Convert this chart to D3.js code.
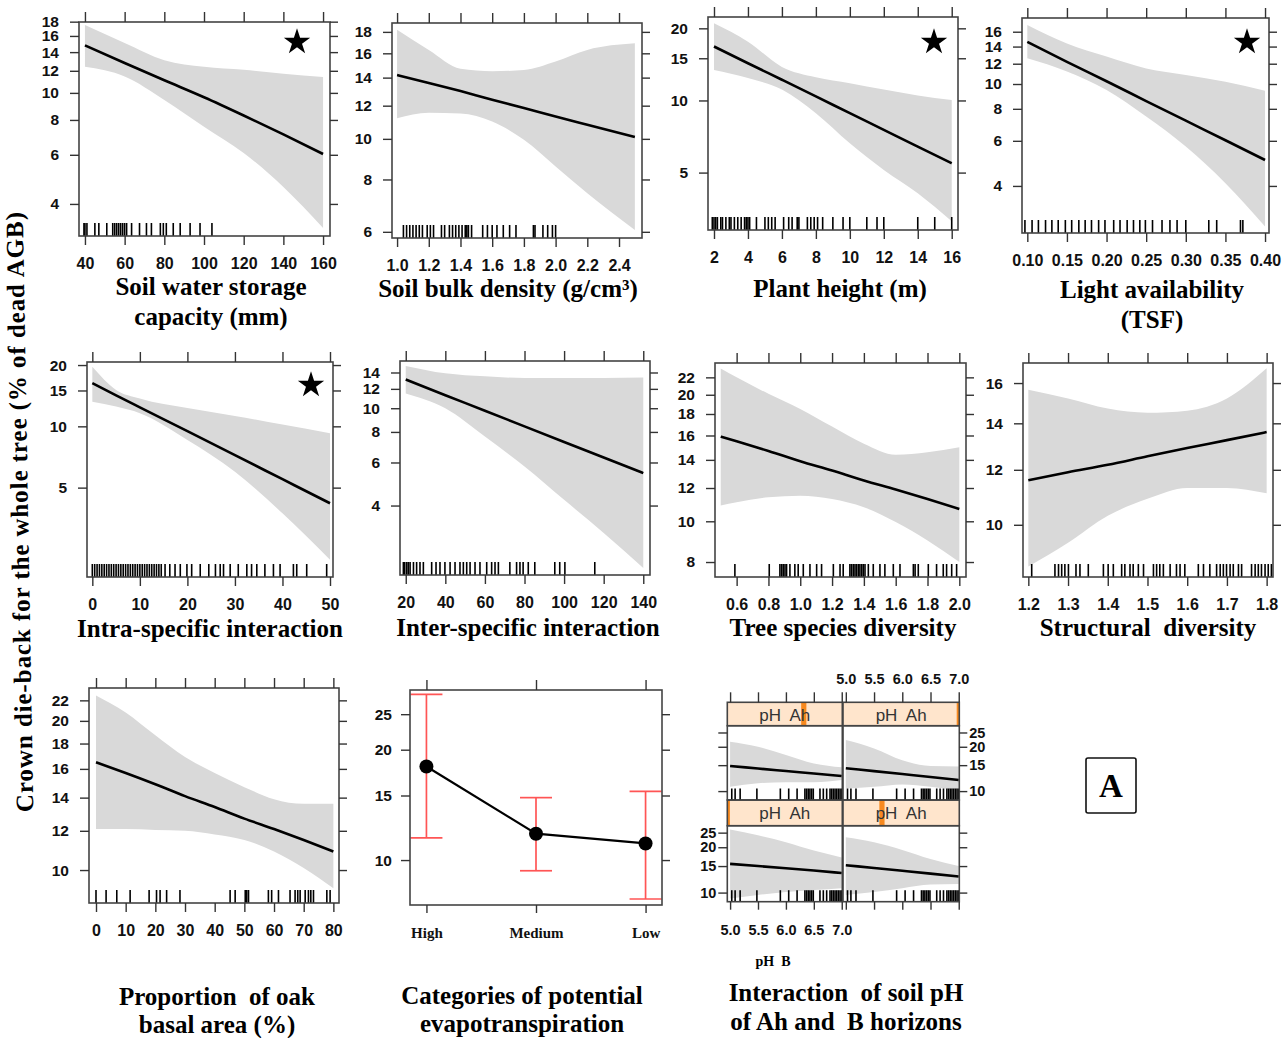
<!DOCTYPE html>
<html>
<head>
<meta charset="utf-8">
<script src="https://cdn.jsdelivr.net/npm/d3@7"></script>
<style>
  body { margin: 0; background: #fff; }
  svg { display: block; }
</style>
</head>
<body>
<svg id="fig" width="1285" height="1038"></svg>
<script>
// ---- data (y = crown die-back, % of dead AGB) ----

// soil water storage capacity (mm)
const swcX = [40, 60, 80, 100, 120, 140, 160];
const swcFit = [14.8, 12.8, 11.1, 9.65, 8.3, 7.1, 6.04];
const swcHi = [17.5, 15.1, 13.1, 12.4, 12.1, 11.7, 11.4];
const swcLo = [12.4, 11.45, 9.44, 7.57, 6.09, 4.6, 3.28];
const swcRug = [39.5, 40, 41, 45, 47, 51, 54, 55, 56, 57, 58, 59, 60, 61, 63.5, 67.5, 71, 73.5, 78, 79.5, 81, 84.5, 88, 93, 98, 104];
const swcXTicks = [40, 60, 80, 100, 120, 140, 160];
const swcYTicks = [4, 6, 8, 10, 12, 14, 16, 18];

// soil bulk density
const bdX = [1.0, 1.2, 1.4, 1.6, 1.8, 2.0, 2.2, 2.5];
const bdFit = [14.2, 13.6, 13.0, 12.4, 11.85, 11.3, 10.8, 10.1];
const bdHi = [18.2, 16.3, 14.7, 14.5, 14.6, 15.3, 16.3, 16.9];
const bdLo = [11.2, 11.55, 11.5, 11.0, 9.95, 8.59, 7.42, 6.06];
const bdRug = [1.04, 1.06, 1.08, 1.1, 1.12, 1.14, 1.16, 1.19, 1.21, 1.23, 1.28, 1.3, 1.33, 1.35, 1.37, 1.39, 1.41, 1.43, 1.44, 1.45, 1.47, 1.54, 1.57, 1.6, 1.63, 1.67, 1.71, 1.75, 1.86, 1.87, 1.92, 1.95, 1.98, 2.0];
const bdXTicks = [1.0, 1.2, 1.4, 1.6, 1.8, 2.0, 2.2, 2.4];
const bdYTicks = [6, 8, 10, 12, 14, 16, 18];

// plant height (m)
const phX = [2, 4, 6, 8, 10, 12, 14, 16];
const phFit = [16.8, 14.3, 12.2, 10.4, 8.85, 7.54, 6.42, 5.47];
const phHi = [21, 17.6, 13.8, 12.5, 11.8, 11.1, 10.5, 10.05];
const phLo = [13.4, 12.4, 11.1, 8.85, 6.63, 5.13, 4.1, 3.13];
const phRug = [1.9, 2.0, 2.1, 2.2, 2.4, 2.5, 2.7, 2.9, 3.0, 3.2, 3.4, 3.6, 3.8, 3.9, 4.0, 4.1, 4.5, 5.0, 5.2, 5.4, 5.6, 6.1, 6.4, 6.6, 6.9, 7.0, 7.5, 7.7, 7.9, 8.1, 8.4, 9.0, 9.6, 10.0, 11.0, 11.6, 12.0, 14.0, 15.0, 16.0];
const phXTicks = [2, 4, 6, 8, 10, 12, 14, 16];
const phYTicks = [5, 10, 15, 20];

// light availability (TSF)
const laX = [0.10, 0.15, 0.20, 0.25, 0.30, 0.35, 0.40];
const laFit = [14.6, 12.2, 10.25, 8.58, 7.19, 6.03, 5.05];
const laHi = [17.0, 14.4, 12.8, 11.5, 10.85, 10.2, 9.42];
const laLo = [12.6, 11.2, 9.48, 7.46, 5.7, 4.1, 2.78];
const laRug = [0.097, 0.106, 0.114, 0.123, 0.131, 0.139, 0.148, 0.156, 0.165, 0.173, 0.181, 0.19, 0.198, 0.209, 0.217, 0.226, 0.234, 0.242, 0.249, 0.258, 0.27, 0.28, 0.289, 0.3, 0.329, 0.339, 0.369, 0.372];
const laXTicks = [0.10, 0.15, 0.20, 0.25, 0.30, 0.35, 0.40];
const laYTicks = [4, 6, 8, 10, 12, 14, 16];

// intra-specific interaction
const inX = [0, 5, 10, 20, 30, 40, 50];
const inFit = [16.3, 14.2, 12.4, 9.47, 7.22, 5.5, 4.19];
const inHi = [19.6, 15.1, 13.7, 12.3, 11.25, 10.2, 9.24];
const inLo = [13.2, 12.5, 11.6, 8.58, 5.99, 3.74, 2.21];
const inRug = [0, 0.5, 1, 1.5, 2, 2.5, 3, 3.5, 4, 4.5, 5, 5.5, 6, 6.5, 7, 7.5, 8, 8.5, 9, 9.5, 10, 10.5, 11, 11.5, 12, 12.5, 13, 13.5, 14, 14.5, 15.3, 16.3, 17.4, 18.5, 19.9, 20.9, 22.7, 24.5, 25.9, 26.9, 27.6, 29, 30.7, 32.5, 33.5, 34.6, 36.3, 38.1, 39.5, 42.3, 43, 45.1, 49.3];
const inXTicks = [0, 10, 20, 30, 40, 50];
const inYTicks = [5, 10, 15, 20];

// inter-specific interaction
const ieX = [20, 40, 60, 80, 100, 120, 140];
const ieFit = [13.1, 11.3, 9.77, 8.43, 7.28, 6.29, 5.43];
const ieHi = [14.9, 13.9, 13.5, 13.3, 13.3, 13.3, 13.35];
const ieLo = [11.5, 10.0, 7.66, 5.78, 4.22, 3.09, 2.22];
const ieRug = [18.8, 19.5, 20.5, 21.3, 22.2, 23.9, 25.5, 27.2, 28.9, 33.1, 35.3, 37.3, 39.8, 42.4, 44.9, 47.4, 49.1, 50.8, 52.5, 55, 57.5, 60.9, 63.4, 65.1, 66.8, 72.6, 76, 77.7, 79.3, 81.9, 85.2, 95.3, 97.8, 100.4, 115.5];
const ieXTicks = [20, 40, 60, 80, 100, 120, 140];
const ieYTicks = [4, 6, 8, 10, 12, 14];

// tree species diversity
const tsX = [0.5, 0.6, 0.8, 1.0, 1.2, 1.4, 1.6, 1.8, 2.0];
const tsFit = [15.9, 15.5, 14.7, 13.9, 13.2, 12.5, 11.9, 11.3, 10.7];
const tsHi = [23.1, 22.0, 20.1, 18.5, 16.8, 15.3, 14.4, 14.6, 15.0];
const tsLo = [10.9, 11.1, 11.4, 11.5, 11.3, 10.8, 9.96, 9.0, 8.0];
const tsRug = [0.589, 0.805, 0.872, 0.883, 0.893, 0.904, 0.914, 0.935, 0.966, 0.987, 1.019, 1.061, 1.103, 1.134, 1.208, 1.25, 1.27, 1.312, 1.322, 1.333, 1.344, 1.354, 1.365, 1.375, 1.386, 1.396, 1.407, 1.428, 1.459, 1.501, 1.532, 1.585, 1.627, 1.711, 1.722, 1.742, 1.805, 1.857, 1.899, 1.92, 1.952, 1.983];
const tsXTicks = [0.6, 0.8, 1.0, 1.2, 1.4, 1.6, 1.8, 2.0];
const tsYTicks = [8, 10, 12, 14, 16, 18, 20, 22];

// structural diversity
const sdX = [1.2, 1.3, 1.4, 1.5, 1.6, 1.7, 1.8];
const sdFit = [11.59, 11.9, 12.2, 12.55, 12.9, 13.24, 13.6];
const sdHi = [15.65, 15.2, 14.7, 14.5, 14.6, 15.2, 16.8];
const sdLo = [8.71, 9.42, 10.3, 10.9, 11.3, 11.3, 11.1];
const sdRug = [1.2085, 1.267, 1.276, 1.284, 1.292, 1.301, 1.32, 1.33, 1.351, 1.389, 1.401, 1.414, 1.435, 1.443, 1.456, 1.464, 1.477, 1.49, 1.515, 1.523, 1.531, 1.54, 1.557, 1.573, 1.582, 1.594, 1.628, 1.641, 1.657, 1.674, 1.683, 1.691, 1.699, 1.708, 1.716, 1.729, 1.737, 1.762, 1.771, 1.779, 1.787, 1.796, 1.804, 1.812];
const sdXTicks = [1.2, 1.3, 1.4, 1.5, 1.6, 1.7, 1.8];
const sdYTicks = [10, 12, 14, 16];

// proportion of oak basal area (%)
const opX = [0, 10, 20, 30, 40, 50, 60, 70, 80];
const opFit = [16.5, 15.7, 14.9, 14.1, 13.4, 12.7, 12.1, 11.5, 10.9];
const opHi = [22.5, 20.8, 18.7, 16.9, 15.7, 14.7, 13.9, 13.6, 13.6];
const opLo = [12.1, 12.1, 12.05, 12.0, 11.8, 11.5, 10.9, 10.1, 9.19];
const opRug = [0, 3.4, 7, 11.5, 17.9, 20.4, 21.6, 23.8, 28.3, 45.2, 46.9, 50.3, 50.8, 51.4, 58.1, 59.2, 61.5, 65.4, 67.1, 68, 68.8, 70.5, 71.6, 72.4, 73.3, 77.8, 78.9];
const opXTicks = [0, 10, 20, 30, 40, 50, 60, 70, 80];
const opYTicks = [10, 12, 14, 16, 18, 20, 22];

// categories of potential evapotranspiration
const petCats = ['High', 'Medium', 'Low'];
const petFit = [18.0, 11.8, 11.1];
const petUpper = [28.3, 14.8, 15.4];
const petLower = [11.5, 9.35, 7.83];
const petYTicks = [10, 15, 20, 25];

// pH Ah x pH B interaction; panels ordered lower-left, lower-right, upper-left, upper-right
const phAhLevels = [5.0, 5.67, 6.33, 7.0];
const phbX = [5.0, 5.5, 6.0, 6.5, 7.0];
const phbFit = [
  [15.5, 15.0, 14.5, 14.0, 13.5],
  [15.2, 14.56, 13.95, 13.36, 12.8],
  [14.8, 14.23, 13.68, 13.16, 12.65],
  [14.3, 13.66, 13.05, 12.46, 11.9]
];
const phbHi = [
  [26.2, 24.0, 21.6, 19.0, 17.1],
  [23.3, 21.6, 19.2, 16.7, 15.0],
  [21.6, 20.0, 17.6, 15.4, 14.5],
  [22.2, 19.5, 16.2, 14.8, 14.7]
];
const phbLo = [
  [9.14, 9.64, 10.1, 10.4, 10.7],
  [9.64, 10.1, 10.7, 11.3, 11.4],
  [10.7, 11.3, 11.5, 11.5, 11.9],
  [10.4, 10.7, 11.1, 10.7, 10.05]
];
const phbRug = [5.03, 5.09, 5.18, 5.48, 5.9, 6.05, 6.2, 6.34, 6.37, 6.4, 6.43, 6.46, 6.49, 6.61, 6.67, 6.73, 6.79, 6.82, 6.85, 6.88, 6.91, 6.94, 6.97, 7.0];
const phbXTicks = [5.0, 5.5, 6.0, 6.5, 7.0];
const phbYTicks = [10, 15, 20, 25];

// ---- drawing ----
const svg = d3.select('#fig');
const sans = '"Liberation Sans", Arial, sans-serif';
const serif = '"Liberation Serif", "Times New Roman", serif';
const bandFill = '#d9d9d9';
const f0 = d3.format('d'), f1 = d3.format('.1f'), f2 = d3.format('.2f');
const blank = () => '';

const panels = [
  { box: [79, 22, 330, 236], xDomain: [37, 163.5], yDomain: [3.07, 17.95], x: swcX, fit: swcFit, hi: swcHi, lo: swcLo, rug: swcRug, xTicks: swcXTicks, yTicks: swcYTicks, xFmt: f0, title: ['Soil water storage', 'capacity (mm)'], tx: 211, ty: [295, 325], star: [297, 42] },
  { box: [392, 23, 642, 238], xDomain: [0.968, 2.545], yDomain: [5.8, 18.9], x: bdX, fit: bdFit, hi: bdHi, lo: bdLo, rug: bdRug, xTicks: bdXTicks, yTicks: bdYTicks, xFmt: f1, title: ['Soil bulk density (g/cm³)'], tx: 508, ty: [297] },
  { box: [708, 17, 958, 230], xDomain: [1.647, 16.37], yDomain: [2.88, 22.3], x: phX, fit: phFit, hi: phHi, lo: phLo, rug: phRug, xTicks: phXTicks, yTicks: phYTicks, xFmt: f0, title: ['Plant height (m)'], tx: 840, ty: [297], star: [934, 42] },
  { box: [1022, 18, 1269, 233], xDomain: [0.0933, 0.405], yDomain: [2.62, 18.1], x: laX, fit: laFit, hi: laHi, lo: laLo, rug: laRug, xTicks: laXTicks, yTicks: laYTicks, xFmt: f2, title: ['Light availability', '(TSF)'], tx: 1152, ty: [298, 328], star: [1247, 42] },
  { box: [87, 362, 333, 577], xDomain: [-1.12, 50.63], yDomain: [1.82, 20.7], x: inX, fit: inFit, hi: inHi, lo: inLo, rug: inRug, xTicks: inXTicks, yTicks: inYTicks, xFmt: f0, title: ['Intra-specific interaction'], tx: 210, ty: [637], star: [311, 385] },
  { box: [400, 361, 650, 575], xDomain: [17.1, 143.4], yDomain: [2.08, 15.6], x: ieX, fit: ieFit, hi: ieHi, lo: ieLo, rug: ieRug, xTicks: ieXTicks, yTicks: ieYTicks, xFmt: f0, title: ['Inter-specific interaction'], tx: 528, ty: [636] },
  { box: [715, 363, 966, 577], xDomain: [0.464, 2.042], yDomain: [7.37, 23.8], x: tsX, fit: tsFit, hi: tsHi, lo: tsLo, rug: tsRug, xTicks: tsXTicks, yTicks: tsYTicks, xFmt: f1, title: ['Tree species diversity'], tx: 843, ty: [636] },
  { box: [1023, 363, 1273, 577], xDomain: [1.1866, 1.816], yDomain: [8.41, 17.1], x: sdX, fit: sdFit, hi: sdHi, lo: sdLo, rug: sdRug, xTicks: sdXTicks, yTicks: sdYTicks, xFmt: f1, title: ['Structural  diversity'], tx: 1148, ty: [636] },
  { box: [89, 688, 339, 903], xDomain: [-2.36, 81.9], yDomain: [8.58, 23.3], x: opX, fit: opFit, hi: opHi, lo: opLo, rug: opRug, xTicks: opXTicks, yTicks: opYTicks, xFmt: f0, title: ['Proportion  of oak', 'basal area (%)'], tx: 217, ty: [1005, 1033] }
];

function tidy(g, size, family) {
  g.select('.domain').remove();
  g.selectAll('.tick line').attr('stroke', '#333').attr('stroke-width', 1.4);
  g.selectAll('.tick text')
    .attr('font-family', family || sans)
    .attr('font-weight', 'bold')
    .attr('font-size', size || 15)
    .attr('fill', '#111');
  return g;
}

function frame(x0, y0, x1, y1) {
  svg.append('rect')
    .attr('x', x0).attr('y', y0)
    .attr('width', x1 - x0).attr('height', y1 - y0)
    .attr('fill', 'none').attr('stroke', '#444').attr('stroke-width', 1.6);
}

function title(lines, cx, ys, size) {
  lines.forEach((t, i) => {
    svg.append('text')
      .attr('x', cx).attr('y', ys[i])
      .attr('text-anchor', 'middle')
      .attr('font-family', serif).attr('font-weight', 'bold')
      .attr('font-size', size || 25)
      .style('white-space', 'pre')
      .text(t);
  });
}

function rug(values, x, bottom, len) {
  svg.append('g').selectAll('line').data(values).join('line')
    .attr('x1', d => x(d)).attr('x2', d => x(d))
    .attr('y1', bottom).attr('y2', bottom - len)
    .attr('stroke', '#000').attr('stroke-width', 1.6);
}

function bandAndFit(rows, x, y) {
  svg.append('path').datum(rows)
    .attr('fill', bandFill)
    .attr('d', d3.area().curve(d3.curveMonotoneX)
      .x(d => x(d.x)).y0(d => y(d.lo)).y1(d => y(d.hi)));
  svg.append('path').datum(rows)
    .attr('fill', 'none').attr('stroke', '#000').attr('stroke-width', 2.6)
    .attr('d', d3.line().curve(d3.curveMonotoneX)
      .x(d => x(d.x)).y(d => y(d.fit)));
}

panels.forEach(p => {
  const [x0, y0, x1, y1] = p.box;
  const x = d3.scaleLinear().domain(p.xDomain).range([x0, x1]);
  const y = d3.scaleLog().domain(p.yDomain).range([y1, y0]);
  const rows = p.x.map((v, i) => ({ x: v, fit: p.fit[i], lo: p.lo[i], hi: p.hi[i] }));

  bandAndFit(rows, x, y);
  rug(p.rug, x, y1, 13);
  frame(x0, y0, x1, y1);

  tidy(svg.append('g').attr('transform', `translate(0,${y1})`)
    .call(d3.axisBottom(x).tickValues(p.xTicks).tickFormat(p.xFmt).tickSize(9).tickPadding(13)), 16);
  tidy(svg.append('g').attr('transform', `translate(0,${y0})`)
    .call(d3.axisTop(x).tickValues(p.xTicks).tickFormat(blank).tickSize(10)));
  tidy(svg.append('g').attr('transform', `translate(${x0},0)`)
    .call(d3.axisLeft(y).tickValues(p.yTicks).tickFormat(f0).tickSize(9).tickPadding(11)), 15.5);
  tidy(svg.append('g').attr('transform', `translate(${x1},0)`)
    .call(d3.axisRight(y).tickValues(p.yTicks).tickFormat(blank).tickSize(8)));

  title(p.title, p.tx, p.ty);
  if (p.star) {
    svg.append('path')
      .attr('d', d3.symbol(d3.symbolStar, 215)())
      .attr('transform', `translate(${p.star[0]},${p.star[1]})`)
      .attr('fill', '#000');
  }
});

// ---- evapotranspiration categories ----
{
  const [x0, y0, x1, y1] = [410, 690, 662, 905];
  const x = d3.scalePoint().domain(petCats).range([x0, x1]).padding(0.15);
  const y = d3.scaleLog().domain([7.54, 29.1]).range([y1, y0]);
  const rows = petCats.map((c, i) => ({ c, fit: petFit[i], lo: petLower[i], hi: petUpper[i] }));
  const bars = svg.append('g').attr('stroke', '#ff5555').attr('stroke-width', 1.7);
  bars.selectAll('.v').data(rows).join('line')
    .attr('x1', d => x(d.c)).attr('x2', d => x(d.c))
    .attr('y1', d => y(d.lo)).attr('y2', d => y(d.hi));
  bars.selectAll('.cu').data(rows).join('line')
    .attr('x1', d => x(d.c) - 16).attr('x2', d => x(d.c) + 16)
    .attr('y1', d => y(d.hi)).attr('y2', d => y(d.hi));
  bars.selectAll('.cl').data(rows).join('line')
    .attr('x1', d => x(d.c) - 16).attr('x2', d => x(d.c) + 16)
    .attr('y1', d => y(d.lo)).attr('y2', d => y(d.lo));
  svg.append('path').datum(rows)
    .attr('fill', 'none').attr('stroke', '#000').attr('stroke-width', 2.2)
    .attr('d', d3.line().x(d => x(d.c)).y(d => y(d.fit)));
  svg.append('g').selectAll('circle').data(rows).join('circle')
    .attr('cx', d => x(d.c)).attr('cy', d => y(d.fit)).attr('r', 7).attr('fill', '#000');
  frame(x0, y0, x1, y1);
  tidy(svg.append('g').attr('transform', `translate(0,${y1})`)
    .call(d3.axisBottom(x).tickSize(8).tickPadding(14)), 15, serif);
  tidy(svg.append('g').attr('transform', `translate(0,${y0})`)
    .call(d3.axisTop(x).tickFormat(blank).tickSize(10)));
  tidy(svg.append('g').attr('transform', `translate(${x0},0)`)
    .call(d3.axisLeft(y).tickValues(petYTicks).tickFormat(f0).tickSize(9).tickPadding(9)), 15.5);
  tidy(svg.append('g').attr('transform', `translate(${x1},0)`)
    .call(d3.axisRight(y).tickValues(petYTicks).tickFormat(blank).tickSize(8)));
  title(['Categories of potential', 'evapotranspiration'], 522, [1004, 1032]);
}

// ---- soil pH interaction (2 x 2 lattice) ----
{
  const cols = [[727.3, 842.3], [843, 959.3]];
  const rowsGeo = [
    { strip: [800, 825.7], plot: [825.7, 901.7] },
    { strip: [702.3, 725.7], plot: [725.7, 800] }
  ];
  phAhLevels.forEach((lev, i) => {
    const [cx0, cx1] = cols[i % 2];
    const r = rowsGeo[Math.floor(i / 2)];
    const upper = i >= 2;
    const x = d3.scaleLinear().domain([4.95, 7.01]).range([cx0, cx1]);
    const y = d3.scaleLog().domain([8.7, 27.8]).range([r.plot[1], r.plot[0]]);
    const rows = phbX.map((v, j) => ({ x: v, fit: phbFit[i][j], lo: phbLo[i][j], hi: phbHi[i][j] }));
    bandAndFit(rows, x, y);
    rug(phbRug, x, r.plot[1], 11.5);
    frame(cx0, r.plot[0], cx1, r.plot[1]);

    // strip with level indicator
    svg.append('rect')
      .attr('x', cx0).attr('y', r.strip[0]).attr('width', cx1 - cx0).attr('height', r.strip[1] - r.strip[0])
      .attr('fill', '#ffe5cc');
    const sx = d3.scaleLinear().domain([5.0, 7.0]).range([cx0, cx1]);
    const bx0 = Math.max(cx0, sx(lev) - 2.6), bx1 = Math.min(cx1, sx(lev) + 2.6);
    svg.append('rect')
      .attr('x', bx0).attr('y', r.strip[0]).attr('width', bx1 - bx0).attr('height', r.strip[1] - r.strip[0])
      .attr('fill', '#f7891f');
    svg.append('text')
      .attr('x', (cx0 + cx1) / 2).attr('y', r.strip[0] + 19)
      .attr('text-anchor', 'middle').attr('font-family', sans).attr('font-size', 17).attr('fill', '#333')
      .style('white-space', 'pre').text('pH  Ah');
    frame(cx0, r.strip[0], cx1, r.strip[1]);

    const left = i % 2 === 0;
    if (upper) {
      tidy(svg.append('g').attr('transform', `translate(0,${r.strip[0]})`)
        .call(d3.axisTop(x).tickValues(phbXTicks).tickFormat(left ? blank : f1).tickSize(10).tickPadding(8)), 14.5);
      if (left) {
        tidy(svg.append('g').attr('transform', `translate(${cx0},0)`)
          .call(d3.axisLeft(y).tickValues(phbYTicks).tickFormat(blank).tickSize(9)));
      } else {
        tidy(svg.append('g').attr('transform', `translate(${cx1},0)`)
          .call(d3.axisRight(y).tickValues(phbYTicks).tickFormat(f0).tickSize(8).tickPadding(2)), 14.5);
      }
    } else {
      tidy(svg.append('g').attr('transform', `translate(0,${r.plot[1]})`)
        .call(d3.axisBottom(x).tickValues(phbXTicks).tickFormat(left ? f1 : blank).tickSize(8).tickPadding(15)), 14.5);
      if (left) {
        tidy(svg.append('g').attr('transform', `translate(${cx0},0)`)
          .call(d3.axisLeft(y).tickValues(phbYTicks).tickFormat(f0).tickSize(9).tickPadding(2)), 14.5);
      } else {
        tidy(svg.append('g').attr('transform', `translate(${cx1},0)`)
          .call(d3.axisRight(y).tickValues(phbYTicks).tickFormat(blank).tickSize(8)));
      }
    }
  });
  svg.append('text').attr('x', 773).attr('y', 966).attr('text-anchor', 'middle')
    .attr('font-family', serif).attr('font-weight', 'bold').attr('font-size', 14)
    .style('white-space', 'pre').text('pH  B');
  title(['Interaction  of soil pH', 'of Ah and  B horizons'], 846, [1001, 1030]);
}

// panel letter
svg.append('rect').attr('x', 1086).attr('y', 758).attr('width', 50).attr('height', 55).attr('rx', 2)
  .attr('fill', 'none').attr('stroke', '#111').attr('stroke-width', 1.6);
svg.append('text').attr('x', 1111).attr('y', 797).attr('text-anchor', 'middle')
  .attr('font-family', serif).attr('font-weight', 'bold').attr('font-size', 33).text('A');

// shared y label
svg.append('text')
  .attr('transform', 'translate(28,512) rotate(-91)')
  .attr('text-anchor', 'middle')
  .attr('font-family', serif).attr('font-weight', 'bold').attr('font-size', 25)
  .attr('textLength', 600).attr('lengthAdjust', 'spacing')
  .text('Crown die-back for the whole tree (% of dead AGB)');
</script>
</body>
</html>
